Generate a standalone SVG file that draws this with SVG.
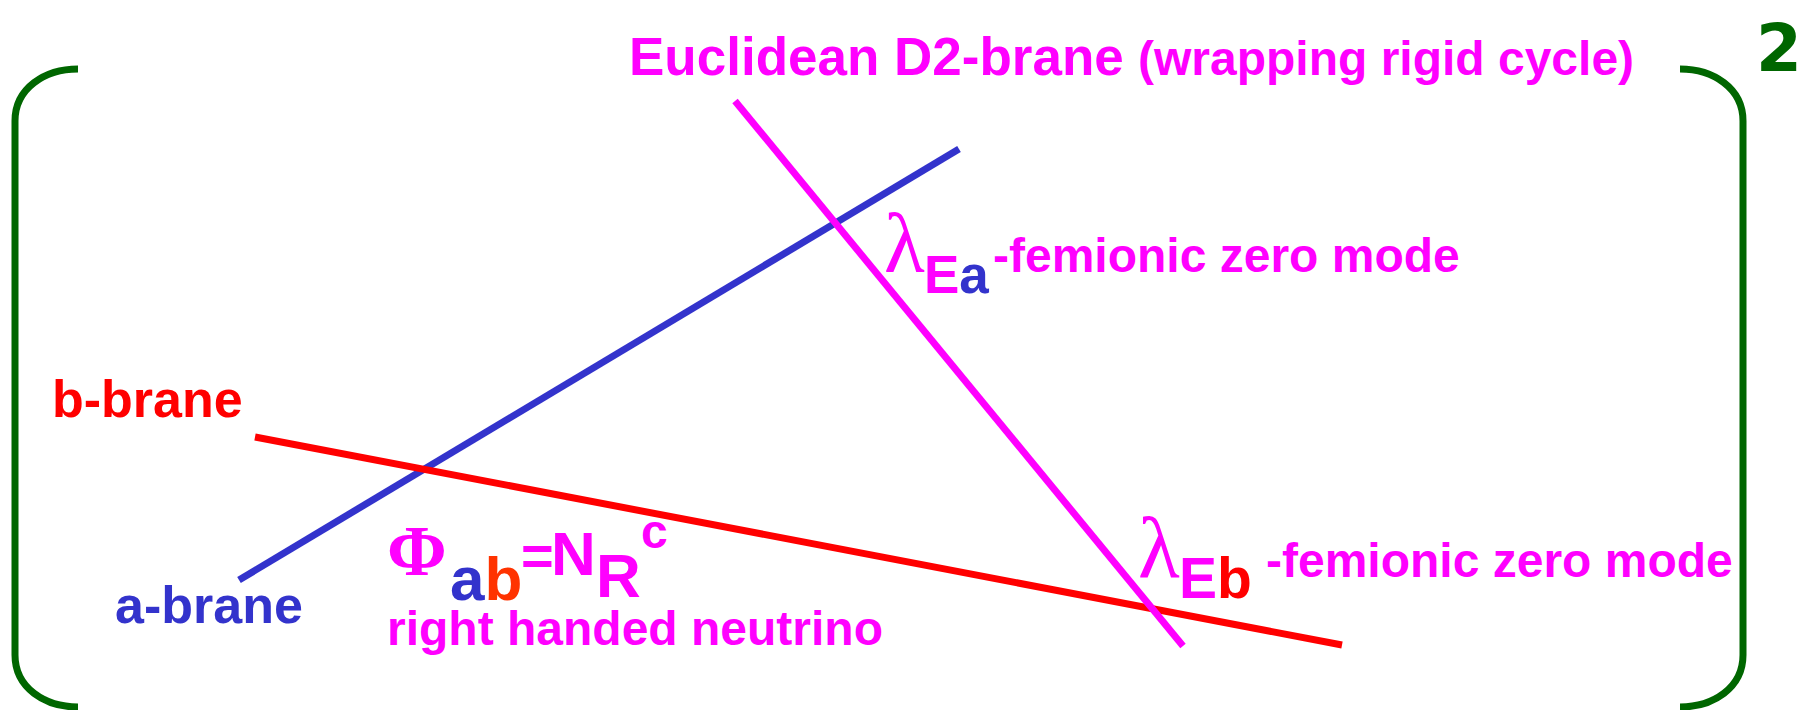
<svg xmlns="http://www.w3.org/2000/svg" width="1802" height="710" viewBox="0 0 1802 710">
<style>
.t{font-family:"Liberation Sans",Arial,sans-serif;font-weight:bold}
.s{font-family:"Liberation Serif","Times New Roman",serif}
.m{fill:#FF00FF}.bl{fill:#3333CC}.rd{fill:#FF0000}.or{fill:#FF3300}.gr{fill:#006600}
.br{fill:none;stroke:#006600;stroke-width:7}
</style>
<rect width="1802" height="710" fill="#FFFFFF"/>
<g id="brackets">
<path class="br" d="M78 69 C45 69 15 88 15 121 L15 655 C15 688 45 707 78 707"/>
<path class="br" d="M1680 69 C1713 69 1743 88 1743 121 L1743 655 C1743 688 1713 707 1680 707"/>
<text class="gr" x="1756" y="71" font-size="66" font-family="'DejaVu Sans',sans-serif" font-weight="bold">2</text>
</g>
<g id="connectors" stroke-width="7" stroke-linecap="butt">
<line id="a-brane-line" x1="239" y1="580" x2="959" y2="149" stroke="#3333CC"/>
<line id="b-brane-line" x1="255" y1="437" x2="1342" y2="645" stroke="#FF0000"/>
<line id="d2-brane-line" x1="735" y1="101" x2="1183" y2="646" stroke="#FF00FF"/>
</g>
<g id="d2-label">
<text class="t m" font-size="53"><tspan x="629" y="75">Euclidean D2-brane</tspan><tspan x="1138" y="75" font-size="48">(wrapping rigid cycle)</tspan></text>
</g>
<g id="b-brane-label">
<text class="t rd" x="52" y="417" font-size="52">b-brane</text>
</g>
<g id="a-brane-label">
<text class="t bl" x="115" y="623" font-size="52">a-brane</text>
</g>
<g id="lambda-Ea">
<text class="t m"><tspan class="s" x="884" y="272" font-size="84" font-weight="normal">λ</tspan><tspan x="924" y="293" font-size="53">E</tspan><tspan class="bl" font-size="53">a</tspan><tspan x="993" y="272" font-size="48">-femionic zero mode</tspan></text>
</g>
<g id="lambda-Eb">
<text class="t m"><tspan class="s" x="1138" y="577" font-size="86" font-weight="normal">λ</tspan><tspan x="1179" y="598" font-size="57">E</tspan><tspan class="rd" font-size="57">b</tspan><tspan x="1266" y="577" font-size="48">-femionic zero mode</tspan></text>
</g>
<g id="phi-ab">
<text class="t m"><tspan class="s" x="387" y="575" font-size="72">Φ</tspan><tspan class="bl" x="450" y="600" font-size="62">a</tspan><tspan class="or" font-size="62">b</tspan><tspan x="521" y="575" font-size="56">=</tspan><tspan x="551" y="575" font-size="62">N</tspan><tspan x="596" y="597" font-size="62">R</tspan><tspan x="641" y="548" font-size="48">c</tspan><tspan x="387" y="645" font-size="48">right handed neutrino</tspan></text>
</g>
</svg>
